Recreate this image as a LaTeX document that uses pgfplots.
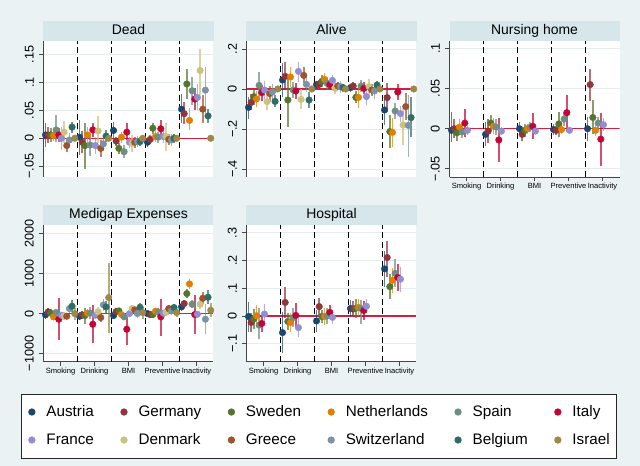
\documentclass[border=0pt]{standalone}
\usepackage{fontspec}
\setmainfont{Liberation Sans}
\usepackage{pgfplots}
\pgfplotsset{compat=1.18}
\usepackage{pgfplotstable}

\definecolor{bgc}{RGB}{234,242,243}
\definecolor{bandc}{RGB}{214,230,234}
\definecolor{gridc}{RGB}{228,236,238}
\definecolor{zeroc}{RGB}{214,28,64}
\definecolor{axc}{RGB}{70,70,70}
\definecolor{cAUT}{RGB}{26,71,111}
\definecolor{cDEU}{RGB}{144,53,59}
\definecolor{cSWE}{RGB}{85,117,47}
\definecolor{cNLD}{RGB}{227,126,0}
\definecolor{cESP}{RGB}{110,142,132}
\definecolor{cITA}{RGB}{193,5,52}
\definecolor{cFRA}{RGB}{147,141,210}
\definecolor{cDNK}{RGB}{202,194,126}
\definecolor{cGRC}{RGB}{160,82,45}
\definecolor{cCHE}{RGB}{123,146,168}
\definecolor{cBEL}{RGB}{45,109,102}
\definecolor{cISR}{RGB}{156,136,71}

% columns: category c, then for each country: estimate, lower, upper
\pgfplotstableread{
c AUT AUTl AUTh DEU DEUl DEUh SWE SWEl SWEh NLD NLDl NLDh ESP ESPl ESPh ITA ITAl ITAh FRA FRAl FRAh DNK DNKl DNKh GRC GRCl GRCh CHE CHEl CHEh BEL BELl BELh ISR ISRl ISRh
0  0.006 -0.015 0.027  0.006 -0.009 0.021  0.006 -0.007 0.019  0.005 -0.005 0.015  0.015 -0.006 0.042  0.006 -0.006 0.018  0.000 -0.020 0.020  0.011 -0.009 0.031  -0.013 -0.024 -0.003  -0.003 -0.015 0.009  0.020 0.010 0.030  0 0 0
1  0.002 -0.030 0.032  -0.007 -0.027 0.013  -0.013 -0.054 0.028  0.006 -0.009 0.021  -0.012 -0.032 0.008  0.015 0.003 0.027  -0.013 -0.028 0.002  0.013 -0.009 0.039  -0.018 -0.033 -0.003  -0.010 -0.022 0.002  0.004 -0.006 0.014  0 0 0
2  0.014 -0.002 0.030  -0.005 -0.013 0.003  -0.018 -0.028 -0.008  0.002 -0.008 0.012  -0.024 -0.036 -0.012  0.011 -0.003 0.027  -0.007 -0.017 0.003  -0.009 -0.024 0.006  -0.007 -0.017 0.003  -0.006 -0.016 0.004  -0.006 -0.014 0.002  0 0 0
3  -0.007 -0.015 0.001  -0.002 -0.010 0.006  0.018 0.008 0.028  0.003 -0.007 0.013  0.002 -0.008 0.012  0.017 0.003 0.033  0.003 -0.009 0.015  0.003 -0.022 0.028  -0.002 -0.012 0.008  -0.003 -0.013 0.007  0.000 -0.008 0.008  0 0 0
4  0.052 0.027 0.079  0.044 0.025 0.065  0.097 0.071 0.123  0.032 0.015 0.055  0.085 0.060 0.110  0.070 0.050 0.090  0.073 0.050 0.097  0.121 0.077 0.160  0.052 0.027 0.077  0.086 0.045 0.127  0.040 0.028 0.053  0 0 0
}\dead

\pgfplotstableread{
c AUT AUTl AUTh DEU DEUl DEUh SWE SWEl SWEh NLD NLDl NLDh ESP ESPl ESPh ITA ITAl ITAh FRA FRAl FRAh DNK DNKl DNKh GRC GRCl GRCh CHE CHEl CHEh BEL BELl BELh ISR ISRl ISRh
0  -0.092 -0.150 -0.042  -0.067 -0.107 -0.027  -0.038 -0.078 0.002  -0.050 -0.090 -0.010  0.018 -0.055 0.087  -0.018 -0.058 0.022  -0.005 -0.050 0.040  -0.063 -0.103 -0.023  -0.023 -0.063 0.017  -0.015 -0.055 0.025  -0.062 -0.092 -0.032  0 0 0
1  0.045 -0.038 0.128  0.063 -0.005 0.137  -0.055 -0.188 0.053  0.060 0.010 0.110  -0.005 -0.045 0.035  -0.010 -0.050 0.030  0.088 0.037 0.137  -0.052 -0.102 -0.002  0.068 0.028 0.108  0.023 -0.017 0.063  -0.055 -0.095 -0.015  0 0 0
2  0.022 0.002 0.042  0.023 0.003 0.043  0.038 0.008 0.068  0.048 0.018 0.078  0.028 -0.002 0.058  0.022 0.002 0.042  0.043 0.018 0.068  0.003 -0.027 0.033  0.015 -0.005 0.035  0.012 -0.018 0.042  0.007 -0.013 0.027  0 0 0
3  0.007 -0.013 0.027  0.015 -0.005 0.035  -0.042 -0.072 -0.012  -0.042 -0.097 0.013  0.015 -0.015 0.045  0.003 -0.027 0.033  -0.038 -0.078 0.002  0.012 -0.028 0.052  -0.005 -0.035 0.025  -0.010 -0.050 0.030  0.020 0.000 0.040  0 0 0
4  -0.105 -0.180 -0.030  -0.043 -0.113 0.028  -0.213 -0.297 -0.130  -0.217 -0.288 -0.147  -0.110 -0.150 -0.070  -0.015 -0.055 0.025  -0.123 -0.163 -0.083  -0.180 -0.280 -0.097  -0.088 -0.155 -0.022  -0.182 -0.338 -0.030  -0.143 -0.238 -0.038  0 0 0
}\alive

\pgfplotstableread{
c AUT AUTl AUTh DEU DEUl DEUh SWE SWEl SWEh NLD NLDl NLDh ESP ESPl ESPh ITA ITAl ITAh FRA FRAl FRAh
0  -0.002 -0.016 0.021  0.000 -0.012 0.012  -0.005 -0.015 0.005  0.002 -0.008 0.012  -0.004 -0.012 0.004  0.007 -0.010 0.025  -0.002 -0.008 0.004
1  -0.007 -0.022 0.008  -0.003 -0.018 0.012  0.007 -0.003 0.017  0.003 -0.007 0.013  0.002 -0.008 0.012  -0.014 -0.042 0.013  -0.003 -0.008 0.002
2  0.000 -0.008 0.008  -0.007 -0.015 0.001  -0.002 -0.010 0.006  0.000 -0.006 0.006  0.002 -0.004 0.008  0.003 -0.013 0.019  -0.003 -0.007 0.001
3  -0.001 -0.008 0.006  -0.002 -0.008 0.004  0.006 -0.010 0.021  -0.001 -0.006 0.004  0.012 0.004 0.020  0.020 -0.002 0.042  -0.002 -0.006 0.002
4  0.000 -0.015 0.015  0.055 0.034 0.075  0.014 -0.006 0.036  -0.002 -0.009 0.005  0.007 -0.001 0.015  -0.013 -0.046 0.020  0.005 -0.003 0.013
}\nursing

\pgfplotstableread{
c AUT AUTl AUTh DEU DEUl DEUh SWE SWEl SWEh NLD NLDl NLDh ESP ESPl ESPh ITA ITAl ITAh FRA FRAl FRAh DNK DNKl DNKh GRC GRCl GRCh CHE CHEl CHEh BEL BELl BELh ISR ISRl ISRh
0  -33 -133 67  42 -58 142  8 -92 108  -83 -163 -3  25 -75 125  -142 -658 383  -42 -122 38  -58 -158 42  -67 -147 13  125 5 245  183 40 330  0 -150 150
1  -67 -167 33  -33 -133 67  -50 -250 150  8 -92 108  8 -142 158  -267 -742 217  -42 -122 38  42 -78 162  -100 -220 20  217 67 367  167 17 317  400 -492 1275
2  -50 -130 30  50 -30 130  67 -13 147  -25 -105 55  -83 -163 -3  -392 -783 -75  0 -50 50  125 25 225  92 12 172  0 -120 120  158 58 258  25 -125 175
3  0 -80 80  -25 -105 55  -25 -105 55  58 -22 138  42 -58 142  -83 -550 358  8 -72 88  33 -67 133  125 45 205  67 -33 167  150 50 250  25 -75 125
4  167 67 267  250 150 350  500 380 620  742 612 872  233 133 333  -25 -520 470  -17 -97 63  233 113 353  383 233 533  -142 -517 233  408 238 578  83 -87 253
}\medigap

\pgfplotstableread{
c AUT AUTl AUTh DEU DEUl DEUh SWE SWEl SWEh NLD NLDl NLDh ESP ESPl ESPh ITA ITAl ITAh FRA FRAl FRAh
0  -0.002 -0.057 0.052  -0.023 -0.058 0.012  -0.011 -0.046 0.024  0.001 -0.039 0.041  -0.033 -0.084 0.028  -0.027 -0.057 0.003  0.007 -0.028 0.042
1  -0.060 -0.135 0.016  0.049 -0.008 0.106  -0.020 -0.050 0.010  -0.023 -0.058 0.012  -0.006 -0.041 0.029  0.002 -0.043 0.047  -0.042 -0.077 -0.007
2  -0.018 -0.058 0.022  0.034 0.004 0.064  -0.002 -0.027 0.023  -0.002 -0.032 0.028  0.000 -0.030 0.030  0.013 -0.012 0.038  -0.005 -0.030 0.020
3  0.027 -0.003 0.057  0.025 -0.005 0.055  0.028 -0.007 0.063  0.031 0.001 0.061  0.027 -0.030 0.058  0.020 -0.015 0.055  0.035 0.010 0.060
4  0.170 0.106 0.236  0.211 0.142 0.269  0.106 0.061 0.151  0.129 0.084 0.174  0.154 0.104 0.204  0.139 0.089 0.189  0.133 0.088 0.178
}\hospital

% one country: table, column, position index, colour
\newcommand{\ctry}[4]{%
  \addplot[forget plot, only marks, mark=*, mark size=3.3bp, color=#4,
    error bars/.cd, y dir=both, y explicit, error mark=none,
    error bar style={line width=1.6bp, draw=#4, opacity=0.7}]
  table[x expr={\thisrow{c}+0.06+0.078*#3}, y=#2,
        y error plus expr={\thisrow{#2h}-\thisrow{#2}},
        y error minus expr={\thisrow{#2}-\thisrow{#2l}}] {#1};}
\newcommand{\seven}[1]{%
  \ctry{#1}{AUT}{0}{cAUT}\ctry{#1}{DEU}{1}{cDEU}\ctry{#1}{SWE}{2}{cSWE}%
  \ctry{#1}{NLD}{3}{cNLD}\ctry{#1}{ESP}{4}{cESP}\ctry{#1}{ITA}{5}{cITA}%
  \ctry{#1}{FRA}{6}{cFRA}}
\newcommand{\twelve}[1]{\seven{#1}%
  \ctry{#1}{DNK}{7}{cDNK}\ctry{#1}{GRC}{8}{cGRC}\ctry{#1}{CHE}{9}{cCHE}%
  \ctry{#1}{BEL}{10}{cBEL}\ctry{#1}{ISR}{11}{cISR}}
\newcommand{\guides}{%
  \addplot[forget plot, zeroc, line width=1.1bp] coordinates {(0,0) (5,0)};
  \pgfplotsinvokeforeach{1,2,3,4}{%
    \draw[black, line width=1.3bp, dash pattern=on 6bp off 3.5bp]
      ({axis cs:##1,0}|-{rel axis cs:0,0}) -- ({axis cs:##1,0}|-{rel axis cs:0,1});}}
\newcommand{\leg}[2]{\addlegendimage{legend image code/.code={\fill[#1] (3.2bp,0bp) circle (3.2bp);}}\addlegendentry{#2}}

\pgfplotsset{
  panel/.style={
    scale only axis, width=170bp, height=136bp,
    xmin=0, xmax=5, enlargelimits=false,
    axis y line*=left,
    axis background/.style={fill=white},
    tick align=outside, major tick length=4.5bp,
    ymajorgrids, major grid style={gridc, line width=0.8bp},
    y axis line style={line width=0.8bp, axc},
    every tick/.style={axc, line width=0.8bp},
    yticklabel shift=4bp,
    yticklabel style={rotate=90, anchor=south, inner sep=1bp,
      font=\fontsize{12.7}{14}\selectfont},
    every axis title/.style={at={(0.5,1)}, anchor=south, fill=bandc,
      minimum width=170bp, minimum height=19.5bp, inner sep=0pt,
      text height=10.2bp, text depth=2.8bp, font=\fontsize{14}{16}\selectfont},
  },
  xlab/.style={axis x line*=bottom,
    x axis line style={line width=0.8bp, axc},
    xtick={0.5,1.5,2.5,3.5,4.5},
    xticklabels={Smoking,Drinking,BMI,Preventive,Inactivity},
    xticklabel style={font=\fontsize{7.6}{9}\selectfont, inner sep=1.5bp}},
  noxlab/.style={axis x line=none},
}

\begin{document}
\begin{tikzpicture}
\fill[bgc] (0,0) rectangle (640bp,466bp);

% Dead
\begin{axis}[panel, noxlab, at={(43.5bp,289bp)}, anchor=south west,
  title={Dead}, ymin=-0.0691, ymax=0.1738,
  ytick={-0.05,0,0.05,0.1,0.15}, yticklabels={−.05,0,.05,.1,.15}]
\guides
\twelve{\dead}
\end{axis}

% Alive
\begin{axis}[panel, noxlab, at={(246.5bp,289bp)}, anchor=south west,
  title={Alive}, ymin=-0.44, ymax=0.24,
  ytick={-0.4,-0.2,0,0.2}, yticklabels={−.4,−.2,0,.2}]
\guides
\twelve{\alive}
\end{axis}

% Nursing home
\begin{axis}[panel, xlab, at={(449.5bp,289bp)}, anchor=south west,
  title={Nursing home}, ymin=-0.0602, ymax=0.1094,
  ytick={-0.05,0,0.05,0.1}, yticklabels={−.05,0,.05,.1}]
\guides
\seven{\nursing}
\end{axis}

% Medigap Expenses
\begin{axis}[panel, xlab, at={(43.5bp,104.3bp)}, anchor=south west, height=136.7bp,
  title={Medigap Expenses}, ymin=-1205, ymax=2217,
  ytick={-1000,0,1000,2000}, yticklabels={−1000,0,1000,2000},
  legend columns=6, legend cell align=left,
  legend style={at={(1.6206,-0.4705)}, anchor=center,
    draw=black!85, line width=0.8bp, fill=white,
    font=\fontsize{15.3}{18}\selectfont,
    inner xsep=7bp, inner ysep=11bp,
    column sep=11bp, row sep=14bp,
    /tikz/every even column/.append style={column sep=26.5bp},
    nodes={inner sep=0pt, text height=11bp, text depth=3bp}}]
\guides
\twelve{\medigap}
\leg{cAUT}{Austria}\leg{cDEU}{Germany}\leg{cSWE}{Sweden}
\leg{cNLD}{Netherlands}\leg{cESP}{Spain}\leg{cITA}{Italy}
\leg{cFRA}{France}\leg{cDNK}{Denmark}\leg{cGRC}{Greece}
\leg{cCHE}{Switzerland}\leg{cBEL}{Belgium}\leg{cISR}{Israel}
\end{axis}

% Hospital
\begin{axis}[panel, xlab, at={(246.5bp,104.3bp)}, anchor=south west, height=136.7bp,
  title={Hospital}, ymin=-0.165, ymax=0.3285,
  ytick={-0.1,0,0.1,0.2,0.3}, yticklabels={−.1,0,.1,.2,.3}]
\guides
\seven{\hospital}
\end{axis}

\pgfresetboundingbox
\path[use as bounding box] (0,0) rectangle (640bp,466bp);
\end{tikzpicture}
\end{document}
